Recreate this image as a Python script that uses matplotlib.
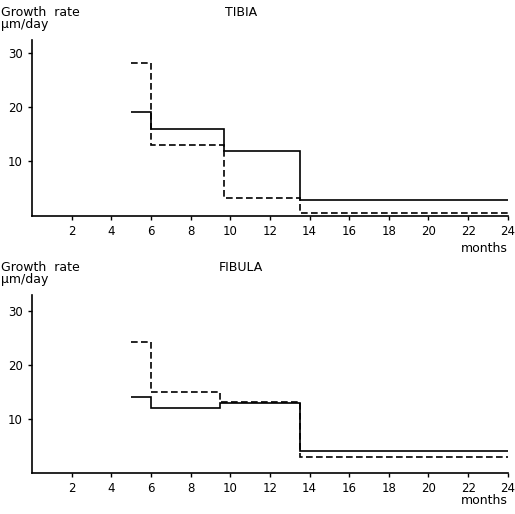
import matplotlib.pyplot as plt

# month boundaries and growth rates (um/day)
tibia_solid_edges = [5, 6, 9.7, 13.5, 24]
tibia_solid = [19, 16, 12, 3]
tibia_dashed_edges = [5, 6, 9.7, 13.5, 24]
tibia_dashed = [28, 13, 3.3, 0.5]

fibula_solid_edges = [5, 6, 9.5, 13.5, 24]
fibula_solid = [14, 12, 13, 4]
fibula_dashed_edges = [5, 6, 9.5, 13.5, 24]
fibula_dashed = [24.2, 15, 13.2, 3]

x_ticks = [2, 4, 6, 8, 10, 12, 14, 16, 18, 20, 22, 24]
y_ticks = [10, 20, 30]

plt.rcParams['font.family'] = ['DejaVu Sans']

fig = plt.figure(figsize=(5.15, 5.14), dpi=100)

panels = [
    ('TIBIA', [0.062, 0.580, 0.924, 0.342], 32.3, -0.15,
     tibia_solid_edges, tibia_solid, tibia_dashed_edges, tibia_dashed),
    ('FIBULA', [0.062, 0.080, 0.924, 0.346], 33.0, -0.12,
     fibula_solid_edges, fibula_solid, fibula_dashed_edges, fibula_dashed),
]

for title, rect, ytop, my, se, sv, de, dv in panels:
    ax = fig.add_axes(rect)
    ax.stairs(sv, se, baseline=None, color='black', lw=1.2)
    ax.stairs(dv, de, baseline=None, color='black', lw=1.2,
              linestyle=(0, (4, 2)))
    ax.set_xlim(0, 24)
    ax.set_ylim(0, ytop)
    ax.set_xticks(x_ticks)
    ax.set_yticks(y_ticks)
    ax.tick_params(labelsize=8.5, length=3, width=1, direction='out')
    ax.spines['top'].set_visible(False)
    ax.spines['right'].set_visible(False)
    ax.spines['left'].set_linewidth(1.2)
    ax.spines['bottom'].set_linewidth(1.2)
    # labels above the axis
    ax.text(-0.065, 1.12, 'Growth  rate', transform=ax.transAxes, fontsize=9,
            ha='left', va='bottom')
    ax.text(-0.065, 1.05, 'µm/day', transform=ax.transAxes, fontsize=9,
            ha='left', va='bottom')
    ax.text(0.44, 1.12, title, transform=ax.transAxes, fontsize=9,
            ha='center', va='bottom')
    ax.text(1.0, my, 'months', transform=ax.transAxes, fontsize=9,
            ha='right', va='top')

fig.savefig('out.png', dpi=100)
